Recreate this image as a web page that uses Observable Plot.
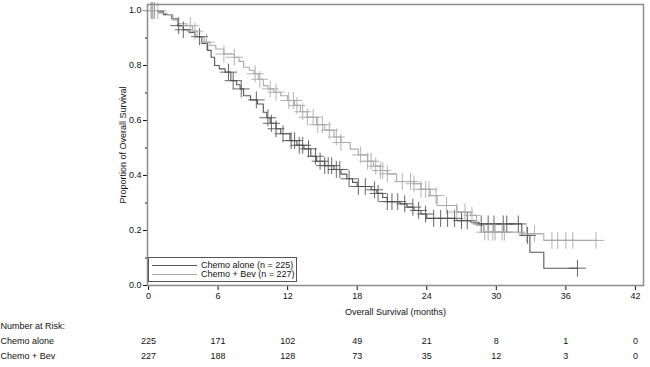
<!DOCTYPE html>
<html>
<head>
<meta charset="utf-8">
<script src="https://cdn.jsdelivr.net/npm/d3@7"></script>
<script src="https://cdn.jsdelivr.net/npm/@observablehq/plot@0.6"></script>
<style>
  body { margin: 0; background: #fff; font-family: "Liberation Sans", Arial, sans-serif; }
  #wrap { position: relative; width: 650px; height: 367px; }
  #legend { position: absolute; left: 148px; top: 257px; width: 149px; height: 25px; border: 1px solid #555; background: #fff; font-size: 9px; color: #111; box-sizing: border-box; }
  #legend .row { position: absolute; left: 3px; height: 10px; line-height: 10px; white-space: nowrap; }
  #legend .sw { display: inline-block; width: 45px; height: 0; vertical-align: middle; margin-right: 4px; }
</style>
</head>
<body>
<div id="wrap"></div>
<script>
// ---- Data ----
const seriesNames = ["Chemo alone", "Chemo + Bev"];
const seriesColors = ["#555555", "#aaaaaa"];

// Chemo alone: Kaplan-Meier step knots (months, survival)
const aloneTimes = [0, 0.8, 1.3, 2.0, 2.5, 3.0, 3.5, 4.0, 4.6, 5.1, 5.4, 5.7, 6.1, 6.6, 7.1, 7.6, 7.9, 8.2, 8.8, 9.4, 9.9, 10.2, 10.5, 11.0, 11.4, 12.2, 12.8, 13.4, 14.0, 14.5, 15.2, 16.0, 16.6, 17.1, 17.6, 18.0, 19.2, 19.7, 20.2, 20.6, 21.7, 22.3, 22.9, 23.5, 24.0, 26.6, 27.8, 28.5, 32.2, 32.9, 34.1, 37.0];
const aloneSurv  = [1.0, 0.995, 0.985, 0.97, 0.945, 0.93, 0.92, 0.905, 0.88, 0.855, 0.83, 0.80, 0.788, 0.776, 0.745, 0.73, 0.715, 0.69, 0.675, 0.66, 0.63, 0.61, 0.59, 0.57, 0.552, 0.527, 0.51, 0.497, 0.47, 0.452, 0.436, 0.422, 0.405, 0.388, 0.375, 0.36, 0.348, 0.335, 0.32, 0.305, 0.297, 0.285, 0.273, 0.26, 0.244, 0.236, 0.23, 0.224, 0.182, 0.121, 0.063, 0.063];
const aloneCensor = [0.3, 0.5, 2.6, 3.0, 4.4, 6.9, 7.3, 8.0, 9.3, 10.3, 10.6, 11.0, 11.6, 12.3, 12.6, 13.0, 13.3, 13.8, 14.4, 14.8, 15.2, 15.5, 15.8, 16.2, 16.5, 17.3, 18.1, 18.7, 19.5, 19.8, 20.6, 21.0, 21.5, 22.1, 22.8, 23.3, 23.9, 24.6, 25.2, 25.8, 26.4, 27.0, 27.5, 28.7, 29.3, 29.8, 30.6, 30.9, 31.9, 32.7, 37.0];

// Chemo + Bev
const bevTimes = [0, 0.9, 1.6, 2.1, 2.5, 3.3, 3.8, 4.2, 4.8, 5.3, 5.8, 6.5, 7.4, 7.8, 8.2, 8.7, 9.1, 9.5, 9.9, 10.3, 10.8, 11.4, 12.0, 12.6, 13.1, 13.7, 14.5, 15.2, 16.0, 16.6, 17.4, 18.1, 18.9, 19.4, 20.0, 20.6, 21.4, 22.9, 23.5, 24.3, 24.9, 26.6, 27.8, 28.3, 28.9, 32.4, 34.1, 38.6];
const bevSurv  = [1.0, 0.99, 0.985, 0.965, 0.952, 0.945, 0.925, 0.903, 0.885, 0.873, 0.86, 0.842, 0.83, 0.815, 0.794, 0.783, 0.77, 0.75, 0.727, 0.715, 0.703, 0.69, 0.673, 0.655, 0.632, 0.612, 0.585, 0.565, 0.54, 0.52, 0.496, 0.475, 0.452, 0.434, 0.418, 0.406, 0.378, 0.37, 0.35, 0.327, 0.291, 0.267, 0.255, 0.218, 0.194, 0.188, 0.164, 0.164];
const bevCensor = [0.2, 0.5, 0.8, 3.6, 4.0, 5.0, 6.5, 7.4, 9.2, 9.6, 10.5, 11.0, 12.1, 12.5, 12.8, 13.3, 13.7, 14.2, 14.6, 15.0, 15.6, 16.2, 16.6, 18.3, 18.9, 19.2, 19.6, 20.0, 20.2, 20.6, 21.9, 22.6, 22.9, 23.5, 23.9, 24.2, 24.8, 25.7, 26.6, 27.3, 27.9, 29.0, 29.3, 29.7, 29.9, 30.5, 30.7, 32.6, 33.3, 34.8, 35.3, 36.0, 36.6, 38.6];

// Number at risk table
const riskMonths = [0, 6, 12, 18, 24, 30, 36, 42];
const riskAlone = [225, 171, 102, 49, 21, 8, 1, 0];
const riskBev = [227, 188, 128, 73, 35, 12, 3, 0];

const yTicks = [0, 0.2, 0.4, 0.6, 0.8, 1.0];
const yMinorTicks = [0.1, 0.3, 0.5, 0.7, 0.9];

// ---- Build tables ----
function curve(times, surv, name) {
  return times.map((t, i) => ({t, s: surv[i], name}));
}
function censorPts(times, surv, cens, name) {
  return cens.map(c => {
    let v = surv[0];
    for (let i = 0; i < times.length; i++) if (times[i] <= c) v = surv[i];
    return {t: c, s: v, name};
  });
}
const curveData = [...curve(aloneTimes, aloneSurv, seriesNames[0]), ...curve(bevTimes, bevSurv, seriesNames[1])];
const censData = [...censorPts(aloneTimes, aloneSurv, aloneCensor, seriesNames[0]), ...censorPts(bevTimes, bevSurv, bevCensor, seriesNames[1])];
const riskData = [
  ...riskMonths.map((m, i) => ({m, row: seriesNames[0], n: riskAlone[i]})),
  ...riskMonths.map((m, i) => ({m, row: seriesNames[1], n: riskBev[i]}))
];

const font = {fontFamily: "Liberation Sans, Arial, sans-serif", fontSize: "9px", color: "#111", background: "#fff"};
const xDomain = [-0.09, 42.7];

const main = Plot.plot({
  width: 650, height: 318,
  marginLeft: 147, marginRight: 7, marginTop: 4, marginBottom: 33,
  style: font,
  x: {domain: xDomain},
  y: {domain: [0, 1.022]},
  color: {domain: seriesNames, range: seriesColors},
  marks: [
    Plot.axisY({ticks: yTicks, tickFormat: ".1f", tickSize: 4, tickPadding: 2, label: "Proportion of Overall Survival", labelAnchor: "center", labelArrow: "none", labelOffset: 28}),
    Plot.axisY({ticks: yMinorTicks, tickSize: 2, text: null, label: null}),
    Plot.axisX({ticks: riskMonths, tickSize: 5, tickPadding: 2, label: "Overall Survival (months)", labelAnchor: "center", labelArrow: "none", labelOffset: 29}),
    Plot.line(curveData, {x: "t", y: "s", z: "name", stroke: "name", curve: "step-after", strokeWidth: 1.1}),
    Plot.dot(censData, {x: "t", y: "s", stroke: "name", symbol: "plus", r: 5.5, strokeWidth: 0.9}),
    Plot.frame({stroke: "#8c8c8c", strokeWidth: 1.5})
  ]
});

const risk = Plot.plot({
  width: 650, height: 49,
  marginLeft: 147, marginRight: 7, marginTop: 8, marginBottom: 11,
  style: font,
  x: {domain: xDomain, axis: null},
  y: {type: "point", padding: 0, domain: ["Number at Risk:", ...seriesNames], axis: null},
  marks: [
    Plot.text(["Number at Risk:", ...seriesNames], {y: d => d, text: d => d, frameAnchor: "left", dx: -147, textAnchor: "start", fill: "#111"}),
    Plot.text(riskData, {x: "m", y: "row", text: "n", fill: "#111"})
  ]
});

const wrap = document.getElementById("wrap");
wrap.appendChild(main);
wrap.appendChild(risk);
main.style.display = "block";
risk.style.display = "block";

const leg = document.createElement("div");
leg.id = "legend";
leg.innerHTML = seriesNames.map((n, i) => {
  const N = i === 0 ? 225 : 227;
  return `<div class="row" style="top:${i === 0 ? 2 : 11}px"><span class="sw" style="border-top:1.5px solid ${seriesColors[i]}"></span>${n} (n = ${N})</div>`;
}).join("");
wrap.appendChild(leg);
</script>
</body>
</html>
